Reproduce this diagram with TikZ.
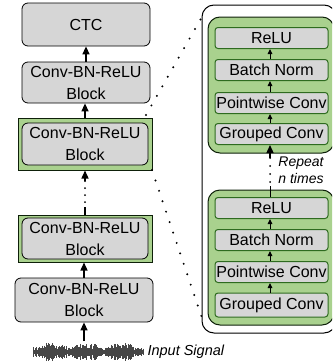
\documentclass[tikz,border=0pt]{standalone}
\usepackage{fontspec}
\setmainfont{Liberation Sans}
\usetikzlibrary{arrows.meta}
\definecolor{boxgray}{HTML}{D6D6D6}
\definecolor{leafgreen}{HTML}{A9D18E}
\definecolor{darkleaf}{HTML}{2E6B1F}
\begin{document}
\begin{tikzpicture}[x=1pt, y=-1pt,
    blockbox/.style={draw, fill=boxgray, rounded corners=6pt, line width=0.8pt,
      align=center, inner sep=1pt, font=\fontsize{16}{22}\selectfont},
    greenbox/.style={draw=black!70!darkleaf, fill=leafgreen, line width=1pt},
    layerbox/.style={draw=darkleaf, fill=boxgray, rounded corners=3pt, line width=1pt,
      minimum width=113pt, minimum height=21pt, inner sep=1pt,
      font=\fontsize{16}{19}\selectfont},
    flow/.style={-{Triangle[length=8pt,width=7pt]}, line width=1.3pt},
    smallflow/.style={-{Triangle[length=5pt,width=4.5pt]}, line width=1pt},
    zoomdots/.style={line width=2.2pt, line cap=round, dash pattern=on 0pt off 11pt}]
    % the frame
    \useasboundingbox (0,0) rectangle (332,364);
    \path[clip] (0,0) rectangle (332,364);

    % the network
    \node[blockbox, minimum width=128pt, minimum height=43pt] (ctc) at (86,24.5) {CTC};
    \node[blockbox, minimum width=128pt, minimum height=41pt] (b1) at (86,82.5) {Conv-BN-ReLU\\Block};
    \node[greenbox, minimum width=134pt, minimum height=52pt] (g2) at (85,144) {};
    \node[blockbox, minimum width=126pt, minimum height=42pt] (b2) at (85,144) {Conv-BN-ReLU\\Block};
    \node[greenbox, minimum width=134pt, minimum height=47pt] (g3) at (85,238.5) {};
    \node[blockbox, minimum width=126pt, minimum height=41pt] (b3) at (85,238.5) {Conv-BN-ReLU\\Block};
    \node[blockbox, minimum width=138pt, minimum height=44pt] (b4) at (84,300) {Conv-BN-ReLU\\Block};

    \draw[flow] (b1.north) -- (ctc.south);
    \draw[flow] (g2.north) -- (g2.north |- b1.south);
    \coordinate (gapt) at (85,181);
    \coordinate (gapb) at (85,207);
    \draw[flow] (gapt) -- (g2.south);
    \draw[line width=2pt, line cap=round, dash pattern=on 0pt off 7pt] (gapt) -- (gapb);
    \draw[line width=1.3pt] (g3.north) -- (gapb);
    \draw[flow] (b4.north) -- (g3.south -| b4.north);

    % the input
    \pgfmathsetseed{5}
    \foreach \i in {0,...,180} {
        \pgfmathsetmacro{\h}{(3+4.5*abs(sin(\i*3.1))+2*abs(cos(\i*7)))*(0.35+0.65*rnd)}
        \draw[gray!55!black, line width=0.45pt] (33+\i*0.61, 352-\h) -- (33+\i*0.61, 352+\h);
    }
    \coordinate (sig) at (84,341);
    \draw[flow] (sig) -- (b4.south);
    \node[anchor=west, font=\fontsize{14.5}{16}\selectfont\itshape] (input) at (144,352) {Input Signal};

    % the detail
    \draw[line width=1pt, rounded corners=12pt] (202,5) rectangle (336,333);
    \draw[greenbox, rounded corners=12pt] (208,17) rectangle (334,153);
    \draw[greenbox, rounded corners=12pt] (208,190) rectangle (334,325);

    \node[layerbox] (relu1) at (271.5,38) {ReLU};
    \node[layerbox] (bn1) at (271.5,70) {Batch Norm};
    \node[layerbox] (pw1) at (271.5,103) {Pointwise Conv};
    \node[layerbox] (gc1) at (271.5,134) {Grouped Conv};
    \node[layerbox] (relu2) at (271.5,208) {ReLU};
    \node[layerbox] (bn2) at (271.5,240) {Batch Norm};
    \node[layerbox] (pw2) at (271.5,272) {Pointwise Conv};
    \node[layerbox, minimum height=24pt] (gc2) at (271.5,305) {Grouped Conv};

    \foreach \a/\b in {gc1/pw1, pw1/bn1, bn1/relu1, gc2/pw2, pw2/bn2, bn2/relu2}
        \draw[smallflow] ([xshift=-1.5pt]\a.north) -- ([xshift=-1.5pt]\b.south);

    % repeat
    \coordinate (rpt) at (270,158);
    \coordinate (rpb) at (270,186);
    \draw[flow] (rpt) -- (gc1.south -| rpt);
    \draw[line width=2pt, line cap=round, dash pattern=on 0pt off 8pt] (rpt) -- (rpb);
    \draw[line width=1pt] (relu2.north -| rpb) -- (rpb);
    \node[align=center, font=\fontsize{14}{17}\selectfont\itshape] (rep) at (301,170) {Repeat\\n times};

    % zoom lines
    \coordinate (zt1) at (146,115);
    \coordinate (zt2) at (203,15);
    \coordinate (zb1) at (152,170);
    \coordinate (zb2) at (202,318);
    \draw[zoomdots] (zt1) -- (zt2);
    \draw[zoomdots] (zb1) -- (zb2);
\end{tikzpicture}
\end{document}
